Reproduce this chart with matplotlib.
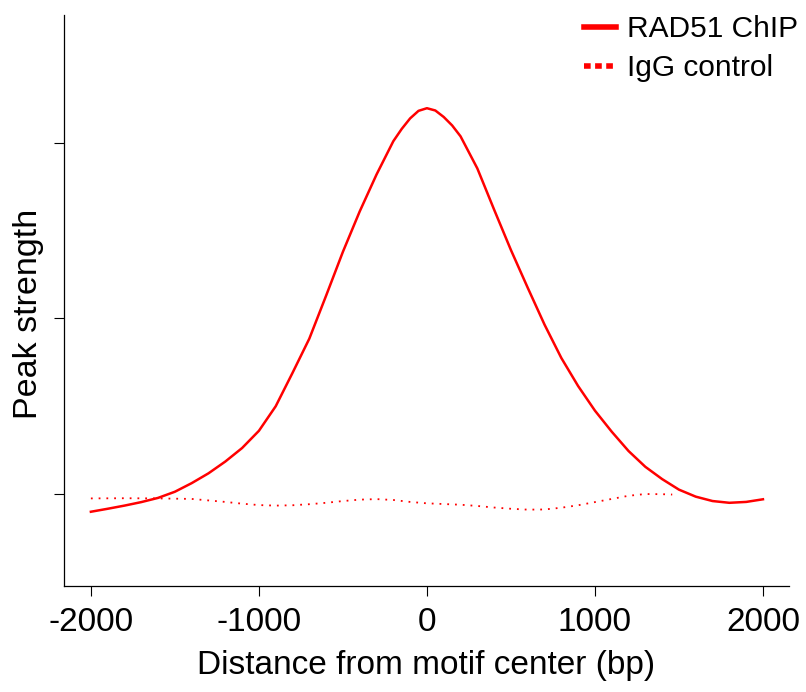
import numpy as np
import matplotlib
matplotlib.use('Agg')
import matplotlib.pyplot as plt

plt.rcParams['font.family'] = ['Liberation Sans', 'DejaVu Sans']

# RAD51 ChIP profile (bp from motif center, peak strength in arbitrary units)
rad51_bp = [-2000, -1900, -1800, -1700, -1600, -1500, -1400, -1300, -1200, -1100,
            -1000, -900, -800, -700, -600, -500, -400, -300, -200, -150,
            -100, -50, 0, 50, 100, 150, 200, 300, 400, 500,
            600, 700, 800, 900, 1000, 1100, 1200, 1300, 1400, 1500,
            1600, 1700, 1800, 1900, 2000]
rad51_val = [-0.101, -0.084, -0.066, -0.046, -0.022, 0.013, 0.062, 0.118, 0.185, 0.262,
             0.360, 0.500, 0.690, 0.885, 1.130, 1.380, 1.610, 1.820, 2.010, 2.080,
             2.140, 2.183, 2.198, 2.185, 2.148, 2.100, 2.038, 1.855, 1.620, 1.390,
             1.175, 0.965, 0.775, 0.615, 0.475, 0.355, 0.245, 0.155, 0.085, 0.025,
             -0.015, -0.040, -0.050, -0.045, -0.030]

# IgG control profile
igg_bp = [-2000, -1800, -1600, -1400, -1200, -1100, -1000, -900, -800, -700,
          -600, -500, -400, -300, -200, -100, 0, 100, 200, 300,
          400, 500, 600, 700, 800, 900, 1000, 1100, 1200, 1300,
          1400, 1460]
igg_val = [-0.025, -0.024, -0.025, -0.028, -0.045, -0.055, -0.063, -0.066, -0.064, -0.058,
           -0.050, -0.040, -0.032, -0.029, -0.034, -0.045, -0.053, -0.057, -0.061, -0.068,
           -0.077, -0.084, -0.089, -0.088, -0.078, -0.064, -0.046, -0.028, -0.010, 0.000,
           -0.001, -0.003]

xticks = [-2000, -1000, 0, 1000, 2000]
yticks = [0, 1, 2]

fig = plt.figure(figsize=(8.06, 6.92), dpi=100)
ax = fig.add_axes([64/806, 1-586/692, (789-64)/806, (586-15)/692])

ax.plot(rad51_bp, rad51_val, color='red', lw=1.8, label='RAD51 ChIP')
ax.plot(igg_bp, igg_val, color='red', lw=1.3, linestyle=(0, (1, 3.3)),
        label='IgG control')

ax.set_xlim(-2160, 2155)
ax.set_ylim(-0.524, 2.729)
ax.set_xticks(xticks)
ax.set_xticklabels([str(t) for t in xticks])
ax.set_yticks(yticks)
ax.set_yticklabels([])
ax.tick_params(axis='both', direction='out', length=7, width=0.8, labelsize=24, pad=8)

for s in ['top', 'right']:
    ax.spines[s].set_visible(False)
for s in ['left', 'bottom']:
    ax.spines[s].set_linewidth(0.9)

ax.set_xlabel('Distance from motif center (bp)', fontsize=24, labelpad=9)
ax.set_ylabel('Peak strength', fontsize=24.5)
ax.yaxis.set_label_coords(-0.028, 0.476)

leg = fig.legend(loc='upper right', bbox_to_anchor=(798/806, 1-15/692),
                 frameon=False, fontsize=21.5, handlelength=1.1,
                 handletextpad=0.35, labelspacing=0.38, borderpad=0,
                 borderaxespad=0)
leg.get_lines()[0].set_linewidth(4)
leg.get_lines()[1].set_linewidth(4)
leg.get_lines()[1].set_linestyle((0, (1.2, 0.8)))

fig.savefig('out.png', dpi=100)
